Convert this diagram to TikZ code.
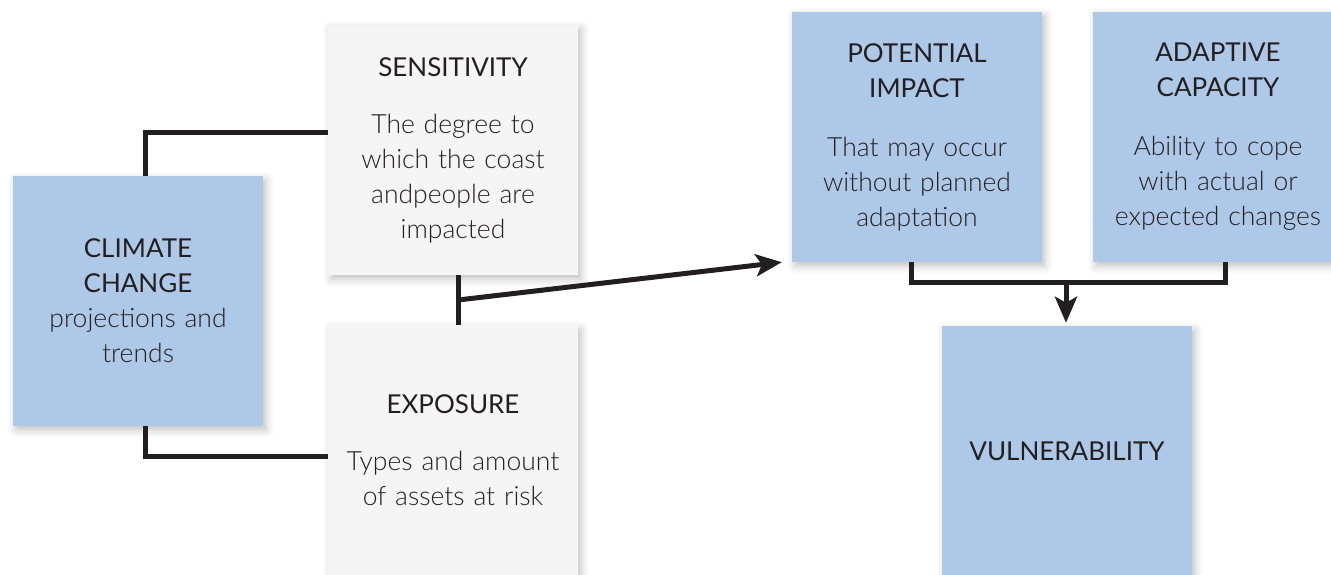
\documentclass[tikz,border=0pt]{standalone}
\usepackage{fontspec}
\IfFontExistsTF{Lato Light}{\setmainfont{Lato Light}}{\setmainfont{Lato}}
\newfontfamily\headfont{Lato}
\usetikzlibrary{arrows.meta,shadows.blur}

\definecolor{boxblue}{HTML}{AEC8E7}
\definecolor{boxgrey}{HTML}{F5F5F5}
\definecolor{inkgrey}{HTML}{231F20}

\tikzstyle{box}=[rectangle,minimum width=250pt,minimum height=250pt,text width=246pt,align=center,
    inner sep=0pt,text=inkgrey,font=\fontsize{26.5}{35}\selectfont,
    blur shadow={shadow xshift=3pt,shadow yshift=-4pt,shadow blur radius=8pt,shadow opacity=25}]
\tikzstyle{bluebox}=[box,fill=boxblue]
\tikzstyle{greybox}=[box,fill=boxgrey]
\tikzstyle{link}=[draw,line width=5pt,inkgrey]
\tikzstyle{arrow}=[link,-{Stealth[length=26pt,width=22pt,inset=6pt]}]
\newcommand{\heading}[1]{{\headfont\fontsize{26}{35}\selectfont #1}}

\begin{document}
\begin{tikzpicture}[x=1pt,y=-1pt]
    \useasboundingbox (0,0) rectangle (1331,575);
    % the boxes
    \node[bluebox] (climate) at (138,301) {\heading{CLIMATE\\CHANGE}\\projections and\\trends};
    \node[greybox] (sens) at (453,150) {\heading{SENSITIVITY}\\[22pt]The degree to\\which the coast\\andpeople are\\impacted};
    \node[greybox] (expo) at (453,450) {\heading{EXPOSURE}\\[22pt]Types and amount\\of assets at risk};
    \node[bluebox] (impact) at (917,137) {\heading{POTENTIAL\\IMPACT}\\[24pt]That may occur\\without planned\\adaptation};
    \node[bluebox] (adapt) at (1218,137) {\heading{ADAPTIVE\\CAPACITY}\\[24pt]Ability to cope\\with actual or\\expected changes};
    \node[bluebox] (vuln) at (1067,451) {\heading{VULNERABILITY}};

    % connectors on the left
    \path[link] ([xshift=7pt]climate.north) |- ([yshift=17pt]sens.west);
    \path[link] ([xshift=7pt]climate.south) |- ([yshift=-6pt]expo.west);
    \path[link] ([xshift=5pt]sens.south) -- ([xshift=5pt]expo.north);
    \coordinate (mid) at (458,300);
    \path[arrow] (mid) -- ([xshift=-10pt]impact.south west);

    % connectors on the right
    \path[link] ([xshift=-6pt]impact.south) -- ++(0,20) -| ([xshift=7pt]adapt.south);
    \coordinate (join) at (1066,282);
    \path[arrow,shorten >=3pt] (join) -- (join |- vuln.north);
\end{tikzpicture}
\end{document}
